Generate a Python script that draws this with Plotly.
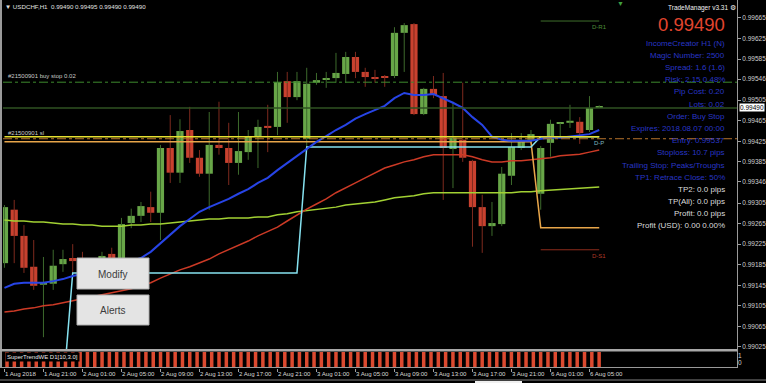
import plotly.graph_objects as go

W, H = 766, 383

# ---------------- data ----------------
symbol = "USDCHF,H1"
bar_index = list(range(62))

open_ = [0.99188, 0.99292, 0.99241, 0.99181, 0.99146, 0.99148, 0.99186, 0.99198, 0.99192, 0.99179,
         0.99190, 0.99206, 0.99194, 0.99266, 0.99280, 0.99297, 0.99286, 0.99412, 0.99364, 0.99447,
         0.99393, 0.99362, 0.99418, 0.99412, 0.99383, 0.99404, 0.99434, 0.99455, 0.99453, 0.99542,
         0.99511, 0.99430, 0.99539, 0.99546, 0.99548, 0.99556, 0.99589, 0.99560, 0.99548, 0.99550,
         0.99552, 0.99636, 0.99653, 0.99478, 0.99527, 0.99513, 0.99410, 0.99428, 0.99387, 0.99297,
         0.99260, 0.99264, 0.99358, 0.99412, 0.99428, 0.99323, 0.99422, 0.99459, 0.99461, 0.99463,
         0.99447, 0.99490]
high_ = [0.99301, 0.99311, 0.99262, 0.99233, 0.99200, 0.99214, 0.99214, 0.99225, 0.99210, 0.99198,
         0.99210, 0.99218, 0.99276, 0.99294, 0.99307, 0.99327, 0.99418, 0.99476, 0.99468, 0.99492,
         0.99408, 0.99482, 0.99502, 0.99461, 0.99482, 0.99447, 0.99467, 0.99496, 0.99560, 0.99560,
         0.99560, 0.99568, 0.99558, 0.99560, 0.99597, 0.99599, 0.99599, 0.99568, 0.99564, 0.99554,
         0.99647, 0.99655, 0.99655, 0.99529, 0.99552, 0.99558, 0.99502, 0.99539, 0.99389, 0.99321,
         0.99307, 0.99375, 0.99441, 0.99441, 0.99447, 0.99416, 0.99467, 0.99461, 0.99496, 0.99472,
         0.99513, 0.99495]
low_ = [0.99179, 0.99188, 0.99169, 0.99136, 0.99044, 0.99136, 0.99171, 0.99169, 0.99163, 0.99151,
        0.99183, 0.99190, 0.99186, 0.99256, 0.99268, 0.99268, 0.99233, 0.99344, 0.99344, 0.99383,
        0.99356, 0.99292, 0.99399, 0.99340, 0.99360, 0.99389, 0.99373, 0.99404, 0.99437, 0.99461,
        0.99505, 0.99414, 0.99535, 0.99529, 0.99539, 0.99539, 0.99548, 0.99531, 0.99539, 0.99531,
        0.99548, 0.99560, 0.99476, 0.99476, 0.99509, 0.99311, 0.99334, 0.99385, 0.99220, 0.99208,
        0.99241, 0.99260, 0.99340, 0.99408, 0.99420, 0.99292, 0.99395, 0.99434, 0.99451, 0.99420,
        0.99443, 0.99490]
close_ = [0.99297, 0.99241, 0.99179, 0.99144, 0.99150, 0.99183, 0.99196, 0.99192, 0.99179, 0.99190,
          0.99202, 0.99198, 0.99264, 0.99280, 0.99299, 0.99286, 0.99412, 0.99364, 0.99445, 0.99393,
          0.99362, 0.99418, 0.99412, 0.99383, 0.99406, 0.99434, 0.99453, 0.99451, 0.99540, 0.99511,
          0.99542, 0.99537, 0.99544, 0.99548, 0.99558, 0.99589, 0.99560, 0.99550, 0.99547, 0.99549,
          0.99636, 0.99651, 0.99478, 0.99527, 0.99515, 0.99412, 0.99432, 0.99393, 0.99297, 0.99260,
          0.99266, 0.99362, 0.99414, 0.99424, 0.99439, 0.99412, 0.99459, 0.99461, 0.99465, 0.99441,
          0.99490, 0.99490]

ma_blue = [0.99140, 0.99148, 0.99150, 0.99150, 0.99150, 0.99153, 0.99157, 0.99163, 0.99167, 0.99173,
           0.99179, 0.99183, 0.99186, 0.99192, 0.99198, 0.99210, 0.99227, 0.99243, 0.99260, 0.99274,
           0.99288, 0.99297, 0.99305, 0.99313, 0.99323, 0.99332, 0.99344, 0.99354, 0.99369, 0.99383,
           0.99397, 0.99410, 0.99424, 0.99435, 0.99447, 0.99457, 0.99469, 0.99478, 0.99486, 0.99494,
           0.99509, 0.99519, 0.99515, 0.99515, 0.99517, 0.99509, 0.99500, 0.99490, 0.99472, 0.99457,
           0.99434, 0.99428, 0.99426, 0.99426, 0.99426, 0.99430, 0.99432, 0.99432, 0.99434, 0.99436,
           0.99439, 0.99447]
ma_red = [0.99093, 0.99095, 0.99099, 0.99101, 0.99105, 0.99107, 0.99111, 0.99115, 0.99118, 0.99122,
          0.99126, 0.99130, 0.99134, 0.99138, 0.99144, 0.99150, 0.99159, 0.99167, 0.99175, 0.99181,
          0.99188, 0.99196, 0.99206, 0.99214, 0.99223, 0.99231, 0.99241, 0.99249, 0.99258, 0.99270,
          0.99282, 0.99293, 0.99303, 0.99313, 0.99325, 0.99334, 0.99344, 0.99354, 0.99363, 0.99373,
          0.99379, 0.99385, 0.99389, 0.99395, 0.99399, 0.99399, 0.99400, 0.99399, 0.99395, 0.99389,
          0.99385, 0.99385, 0.99387, 0.99387, 0.99389, 0.99391, 0.99393, 0.99397, 0.99399, 0.99400,
          0.99404, 0.99408]
ma_green = [0.99272, 0.99270, 0.99270, 0.99268, 0.99268, 0.99266, 0.99264, 0.99264, 0.99262, 0.99262,
            0.99260, 0.99260, 0.99260, 0.99262, 0.99262, 0.99264, 0.99264, 0.99266, 0.99268, 0.99270,
            0.99272, 0.99274, 0.99274, 0.99276, 0.99276, 0.99276, 0.99278, 0.99278, 0.99282, 0.99284,
            0.99288, 0.99290, 0.99292, 0.99295, 0.99297, 0.99301, 0.99303, 0.99305, 0.99307, 0.99311,
            0.99315, 0.99317, 0.99319, 0.99323, 0.99325, 0.99325, 0.99325, 0.99325, 0.99325, 0.99325,
            0.99325, 0.99325, 0.99325, 0.99327, 0.99327, 0.99329, 0.99330, 0.99332, 0.99332, 0.99334,
            0.99334, 0.99336]
trail_cyan = [None, None, None, None, None, None, 0.98936, 0.99169, 0.99169, 0.99169,
              0.99169, 0.99169, 0.99169, 0.99169, 0.99169, 0.99169, 0.99169, 0.99169, 0.99169, 0.99169,
              0.99169, 0.99169, 0.99169, 0.99169, 0.99169, 0.99169, 0.99169, 0.99169, 0.99169, 0.99169,
              0.99169, 0.99414, 0.99414, 0.99414, 0.99414, 0.99414, 0.99414, 0.99414, 0.99414, 0.99414,
              0.99414, 0.99414, 0.99414, 0.99414, 0.99414, 0.99414, 0.99414, 0.99414, 0.99414, 0.99414,
              0.99414, 0.99414, 0.99414, 0.99414, 0.99414, 0.99434, 0.99434, 0.99434, 0.99434, 0.99434,
              0.99434, 0.99434]
trail_orange = [0.99424, 0.99424, 0.99424, 0.99424, 0.99424, 0.99424, 0.99424, 0.99424, 0.99424, 0.99424,
                0.99424, 0.99424, 0.99424, 0.99424, 0.99424, 0.99424, 0.99424, 0.99424, 0.99424, 0.99424,
                0.99424, 0.99424, 0.99424, 0.99424, 0.99424, 0.99424, 0.99424, 0.99424, 0.99424, 0.99424,
                0.99424, 0.99424, 0.99424, 0.99424, 0.99424, 0.99424, 0.99424, 0.99424, 0.99424, 0.99424,
                0.99424, 0.99424, 0.99424, 0.99424, 0.99424, 0.99424, 0.99424, 0.99424, 0.99424, 0.99424,
                0.99424, 0.99424, 0.99424, 0.99424, 0.99424, 0.99257, 0.99257, 0.99257, 0.99257, 0.99257,
                0.99257, 0.99257]

pivot_names = ["D-R1", "D-P", "D-S1"]
pivot_values = [0.99659, 0.99434, 0.99214]
pivot_start = [55, 0, 55]
pivot_colors = ["#3f6f2c", "#e6e030", "#8e2c1c"]
pivot_text_colors = ["#4f8f3a", "#7fb8c0", "#b03a28"]

entry_price = 0.99540
stop_price = 0.99430
order_labels = ["#21500901 buy stop 0.02", "#21500901 sl"]

price_tick_labels = ["0.99665", "0.99625", "0.99585", "0.99546", "0.99505", "0.99465", "0.99425",
                     "0.99385", "0.99346", "0.99305", "0.99265", "0.99225", "0.99185", "0.99145",
                     "0.99105", "0.99065", "0.99025"]
time_tick_bars = [0, 4, 8, 12, 16, 20, 24, 28, 32, 36, 40, 44, 48, 52, 56, 60]
time_tick_labels = ["1 Aug 2018", "1 Aug 21:00", "2 Aug 01:00", "2 Aug 05:00", "2 Aug 09:00",
                    "2 Aug 13:00", "2 Aug 17:00", "2 Aug 21:00", "3 Aug 01:00", "3 Aug 05:00",
                    "3 Aug 09:00", "3 Aug 13:00", "3 Aug 17:00", "3 Aug 21:00", "6 Aug 01:00",
                    "6 Aug 05:00"]

supertrend = [1, 1, 1, 1, 1, 1, 1, 1, 1, 1, 1, 1, 1, 1, 1, 1, 1, 1, 1, 1,
              1, 1, 1, 1, 1, 1, 1, 1, 1, 1, 1, 1, 1, 1, 1, 1, 1, 1, 1, 1,
              1, 1, 1, 1, 1, 1, 1, 1, 1, 1, 1, 1, 1, 1, 1, 1, 1, 1, 1, 1,
              1, 1, 1, 1, 1, 1, 1, 1, 1, 1, 1, 1, 1, 1, 1, 1, 1, 1, 1, 1,
              1, 1]

panel_lines = [
    ("IncomeCreator H1 (N)", "blue"), ("Magic Number: 2500", "blue"), ("Spread: 1.6 (1.6)", "blue"),
    ("Risk: 2.15 0.48%", "blue"), ("Pip Cost: 0.20", "blue"), ("Lots: 0.02", "blue"),
    ("Order: Buy Stop", "blue"), ("Expires: 2018.08.07 00:00", "blue"), ("Entry: 0.99537", "blue"),
    ("Stoploss: 10.7 pips", "blue"), ("Trailing Stop: Peaks/Troughs", "blue"),
    ("TP1: Retrace Close: 50%", "blue"), ("TP2: 0.0 pips", "white"), ("TP(All): 0.0 pips", "white"),
    ("Profit: 0.0 pips", "white"), ("Profit (USD): 0.00 0.00%", "white"),
]

# ---------------- style ----------------
FONT = "Liberation Sans"
GREEN_BODY, GREEN_WICK = "#68a648", "#3d6a2c"
RED_BODY, RED_WICK = "#c8412f", "#7e2a1e"
BLUE_TXT, WHITE_TXT = "#2836c6", "#dcdcdc"
AXIS_C = "#a0a0a0"


def px(x):
    return x / W


def py(y):
    return 1 - y / H


fig = go.Figure()

# candle bodies & wicks
for is_up, body_c, wick_c in [(True, GREEN_BODY, GREEN_WICK), (False, RED_BODY, RED_WICK)]:
    idx = [i for i in bar_index if (close_[i] >= open_[i]) == is_up]
    wx, wy = [], []
    for i in idx:
        wx += [i, i, None]
        wy += [low_[i], high_[i], None]
    fig.add_trace(go.Scatter(x=wx, y=wy, mode="lines", line=dict(color=wick_c, width=1),
                             hoverinfo="skip", showlegend=False))
    fig.add_trace(go.Bar(
        x=idx,
        base=[min(open_[i], close_[i]) for i in idx],
        y=[max(abs(close_[i] - open_[i]), 0.00002) for i in idx],
        width=0.74, marker=dict(color=body_c, line=dict(width=0)),
        hoverinfo="skip", showlegend=False))

# indicator lines
for vals, col, wd in [(ma_green, "#a2d133", 1.5), (ma_red, "#cc3a26", 1.5),
                      (trail_orange, "#e8a64a", 1.5), (trail_cyan, "#86e2f0", 1.5),
                      (ma_blue, "#2744e6", 2)]:
    fig.add_trace(go.Scatter(x=bar_index, y=vals, mode="lines", line=dict(color=col, width=wd),
                             connectgaps=False, hoverinfo="skip", showlegend=False))

# pivot lines
for name, val, st, col in zip(pivot_names, pivot_values, pivot_start, pivot_colors):
    fig.add_trace(go.Scatter(x=[st, bar_index[-1]], y=[val, val], mode="lines",
                             line=dict(color=col, width=1.5 if name == "D-P" else 1),
                             hoverinfo="skip", showlegend=False))

# supertrend histogram (sub window)
fig.add_trace(go.Bar(x=list(range(len(supertrend))), y=supertrend, width=0.48,
                     marker=dict(color="#dc4a30", line=dict(width=0)),
                     xaxis="x2", yaxis="y2", hoverinfo="skip", showlegend=False))

shapes = []
# horizontal order lines across the whole chart
shapes.append(dict(type="line", xref="x domain", yref="y", x0=0, x1=1, y0=close_[-1], y1=close_[-1],
                   line=dict(color="#2f5222", width=1.5)))
shapes.append(dict(type="line", xref="x domain", yref="y", x0=0, x1=1, y0=entry_price, y1=entry_price,
                   line=dict(color="#3d8a2d", width=1, dash="dashdot")))
shapes.append(dict(type="line", xref="x domain", yref="y", x0=0, x1=1, y0=stop_price, y1=stop_price,
                   line=dict(color="#b8742c", width=1, dash="dashdot")))

# frame
grey = "#9a9a9a"
shapes += [
    dict(type="line", xref="paper", yref="paper", x0=px(1), x1=px(1), y0=py(0), y1=py(368),
         line=dict(color=grey, width=2)),
    dict(type="rect", xref="paper", yref="paper", x0=px(0), x1=px(738), y0=py(349), y1=py(351.5),
         line=dict(width=0), fillcolor="#a8a8a8"),
    dict(type="line", xref="paper", yref="paper", x0=px(0), x1=px(738), y0=py(367.5), y1=py(367.5),
         line=dict(color=grey, width=1)),
    dict(type="line", xref="paper", yref="paper", x0=px(737.5), x1=px(737.5), y0=py(0), y1=py(368),
         line=dict(color=grey, width=1)),
    dict(type="line", xref="paper", yref="paper", x0=0, x1=1, y0=py(380), y1=py(380),
         line=dict(color="#808080", width=1)),
    dict(type="rect", xref="paper", yref="paper", x0=px(475), x1=px(522), y0=py(381), y1=py(383),
         line=dict(width=0), fillcolor="#f0f0f0"),
]
# buttons
for (x0, y0, x1, y1) in [(77, 258, 149, 289), (77, 295, 149, 325)]:
    shapes.append(dict(type="rect", xref="paper", yref="paper", x0=px(x0), x1=px(x1),
                       y0=py(y1), y1=py(y0), fillcolor="#e4e4e4", line=dict(color="#b0b0b0", width=1)))

ann = []


def label(text, x, y, size, color, xanchor="left", yanchor="middle", family=FONT, **kw):
    ann.append(dict(text=text, x=px(x), y=py(y), xref="paper", yref="paper", showarrow=False,
                    xanchor=xanchor, yanchor=yanchor,
                    font=dict(family=family, size=size, color=color), **kw))


# header
label("▼ %s  %.5f %.5f %.5f %.5f" % (symbol, open_[-1], high_[-1], low_[-1], close_[-1]),
      3, 7, 6.2, "#e0e0e0")
# chart shift marker
label("▼", 620, 3, 7, "#3fa040", xanchor="center")
# trade manager panel
label("TradeManager v3.31 ⚙", 738, 8, 6.5, "#f0f0f0", xanchor="right")
label("%.5f" % close_[-1], 727, 25, 18.5, "#e2452e", xanchor="right")
for k, (txt, c) in enumerate(panel_lines):
    label(txt, 727, 43 + 12.2 * k, 8, BLUE_TXT if c == "blue" else WHITE_TXT, xanchor="right")

# order labels
for txt, lvl in zip(order_labels, [entry_price, stop_price]):
    ann.append(dict(text=txt, x=px(6), y=lvl, xref="paper", yref="y", showarrow=False,
                    xanchor="left", yanchor="bottom", yshift=1,
                    font=dict(family=FONT, size=6, color="#c8c8c8")))
# pivot labels
for name, val, tc in zip(pivot_names, pivot_values, pivot_text_colors):
    ann.append(dict(text=name, x=bar_index[-1], y=val, xref="x", yref="y", showarrow=False,
                    xanchor="center", yanchor="top", yshift=-1,
                    font=dict(family=FONT, size=6, color=tc)))
# current price box
ann.append(dict(text="%.5f" % close_[-1], x=px(739), y=close_[-1], xref="paper", yref="y",
                showarrow=False, xanchor="left", yanchor="middle", bgcolor="#ffffff", borderpad=0,
                font=dict(family=FONT, size=6.5, color="#000000")))
# sub window label
label("SuperTrendWE D1[10,3.0]", 5, 356.5, 6, "#e8e8e8", bgcolor="#000000")
# button texts
label("Modify", 113, 274, 10, "#3c3c3c", xanchor="center")
label("Alerts", 113, 310, 10, "#3c3c3c", xanchor="center")

xdom = [px(3), px(737)]
fig.update_layout(
    width=W, height=H, margin=dict(l=0, r=0, t=0, b=0, pad=0, autoexpand=False),
    paper_bgcolor="#000000", plot_bgcolor="#000000",
    barmode="overlay", showlegend=False, hovermode=False,
    shapes=shapes, annotations=ann,
    xaxis=dict(domain=xdom, range=[-0.15, 75.13], anchor="free", position=py(368),
               showgrid=False, zeroline=False, showline=False, automargin=False,
               tickmode="array", tickvals=time_tick_bars, ticktext=time_tick_labels,
               tickangle=0, ticks="outside", ticklen=3, tickcolor=AXIS_C,
               ticklabelposition="outside right",
               tickfont=dict(family=FONT, size=6.1, color="#d8d8d8"), fixedrange=True),
    yaxis=dict(domain=[py(349), py(2)], range=[0.99021, 0.99696], side="right", anchor="x",
               showgrid=False, zeroline=False, showline=True, linecolor=AXIS_C, automargin=False,
               tickmode="array", tickvals=[float(t) for t in price_tick_labels],
               ticktext=price_tick_labels, ticks="outside", ticklen=3, tickcolor=AXIS_C,
               tickfont=dict(family=FONT, size=6.5, color="#d0d0d0"), fixedrange=True),
    xaxis2=dict(domain=xdom, range=[-0.55, 99.86], anchor="y2", visible=False, fixedrange=True,
                automargin=False),
    yaxis2=dict(domain=[py(367), py(352)], range=[0, 1], side="right", anchor="x2",
                showgrid=False, zeroline=False, showline=False, automargin=False,
                tickmode="array", tickvals=[0.73, 0.27], ticktext=["1", "0"], ticks="",
                tickfont=dict(family=FONT, size=6.5, color="#d0d0d0"), fixedrange=True),
)

fig.write_html("out.html", config={"displayModeBar": False})
